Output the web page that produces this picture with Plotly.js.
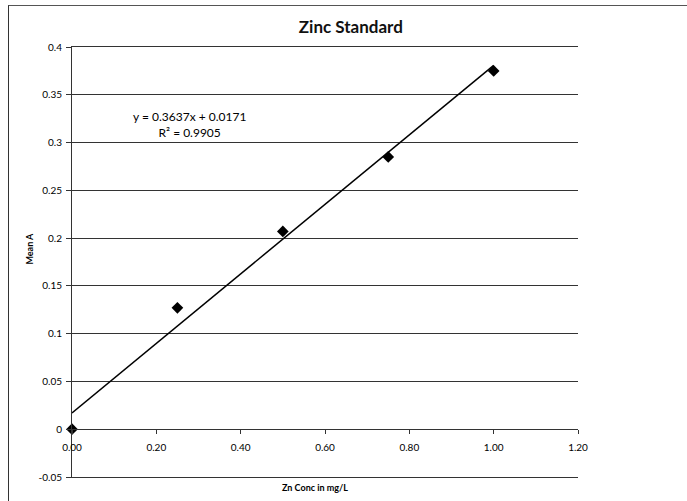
<!DOCTYPE html>
<html><head><meta charset="utf-8">
<script src="https://cdn.plot.ly/plotly-3.0.1.min.js"></script>
<style>
html,body{margin:0;padding:0;background:#fff;}
#frame{position:absolute;left:8px;top:5px;width:690px;height:510px;border-left:1.5px solid #333;border-top:1.5px solid #555;box-sizing:border-box;pointer-events:none;}
#chart{position:absolute;left:0;top:0;width:687px;height:501px;}
</style></head>
<body>
<div id="chart"></div>
<div id="frame"></div>
<script>
const concentrations = [0, 0.25, 0.5, 0.75, 1.0];
const meanA = [0, 0.127, 0.207, 0.285, 0.375];
const slope = 0.3637;
const intercept = 0.0171;
const trendX = [0, 1.0];
const xTicks = [0, 0.2, 0.4, 0.6, 0.8, 1.0, 1.2];
const xTickLabels = ['0.00','0.20','0.40','0.60','0.80','1.00','1.20'];
const yTicks = [-0.05, 0, 0.05, 0.1, 0.15, 0.2, 0.25, 0.3, 0.35, 0.4];
const yTickLabels = ['-0.05','0','0.05','0.1','0.15','0.2','0.25','0.3','0.35','0.4'];

const trendY = trendX.map(x => slope * x + intercept);
const yRange = [-0.05, 0.4];
const xRange = [0, 1.2];
const font = 'Lato, "Open Sans", sans-serif';

const data = [
  {x: [xRange[0]], y: [yRange[0]], xaxis: 'x2', mode: 'markers', marker: {opacity: 0}, hoverinfo: 'skip'},
  {x: [xRange[0]], y: [yRange[0]], xaxis: 'x3', mode: 'markers', marker: {opacity: 0}, hoverinfo: 'skip'},
  {x: trendX, y: trendY, mode: 'lines', line: {color: '#000', width: 1.5}, hoverinfo: 'skip', cliponaxis: false},
  {x: concentrations, y: meanA, mode: 'markers', marker: {symbol: 'diamond', size: 9, color: '#000'}, cliponaxis: false}
];

const edgeAxis = side => ({
  range: xRange.slice(), overlaying: 'x', anchor: 'y', side: side,
  showline: true, linecolor: '#333', linewidth: 1, showgrid: false, zeroline: false,
  ticks: '', showticklabels: false
});

const layout = {
  width: 687, height: 501,
  margin: {l: 72, r: 109, t: 47, b: 24},
  paper_bgcolor: '#fff', plot_bgcolor: '#fff',
  showlegend: false,
  title: {text: '<b>Zinc Standard</b>', font: {family: font, size: 17, color: '#111'}, x: 0.551, xref: 'paper', y: 0.957, yref: 'container', xanchor: 'center'},
  xaxis: {
    range: xRange.slice(), tickvals: xTicks, ticktext: xTickLabels,
    anchor: 'free', position: (0 - yRange[0]) / (yRange[1] - yRange[0]),
    showgrid: false, zeroline: false, showline: true, linecolor: '#333', linewidth: 1,
    ticks: 'outside', ticklen: 4, tickcolor: '#333', ticklabelstandoff: 5,
    tickfont: {family: font, size: 10, color: '#000'}
  },
  xaxis2: edgeAxis('bottom'),
  xaxis3: edgeAxis('top'),
  yaxis: {
    range: yRange.slice(), tickvals: yTicks, ticktext: yTickLabels,
    showgrid: true, gridcolor: '#333', gridwidth: 1, zeroline: false,
    showline: true, linecolor: '#333', linewidth: 1,
    ticks: 'outside', ticklen: 5, tickcolor: '#333', ticklabelstandoff: 2,
    tickfont: {family: font, size: 10, color: '#000'}
  },
  annotations: [
    {text: 'y = 0.3637x + 0.0171<br>R² = 0.9905', xref: 'paper', yref: 'paper', x: 0.233, y: 0.82, xanchor: 'center', yanchor: 'middle', showarrow: false, align: 'center', font: {family: font, size: 12, color: '#000'}},
    {text: '<b>Zn Conc in mg/L</b>', xref: 'paper', yref: 'paper', x: 0.48, y: 0, yshift: -18, showarrow: false, font: {family: font, size: 9, color: '#000'}},
    {text: '<b>Mean A</b>', xref: 'paper', yref: 'paper', x: 0, xshift: -50, y: 0.53, textangle: -90, showarrow: false, font: {family: font, size: 9, color: '#000'}}
  ]
};

Plotly.newPlot('chart', data, layout, {displayModeBar: false, staticPlot: true});
</script>
</body></html>
